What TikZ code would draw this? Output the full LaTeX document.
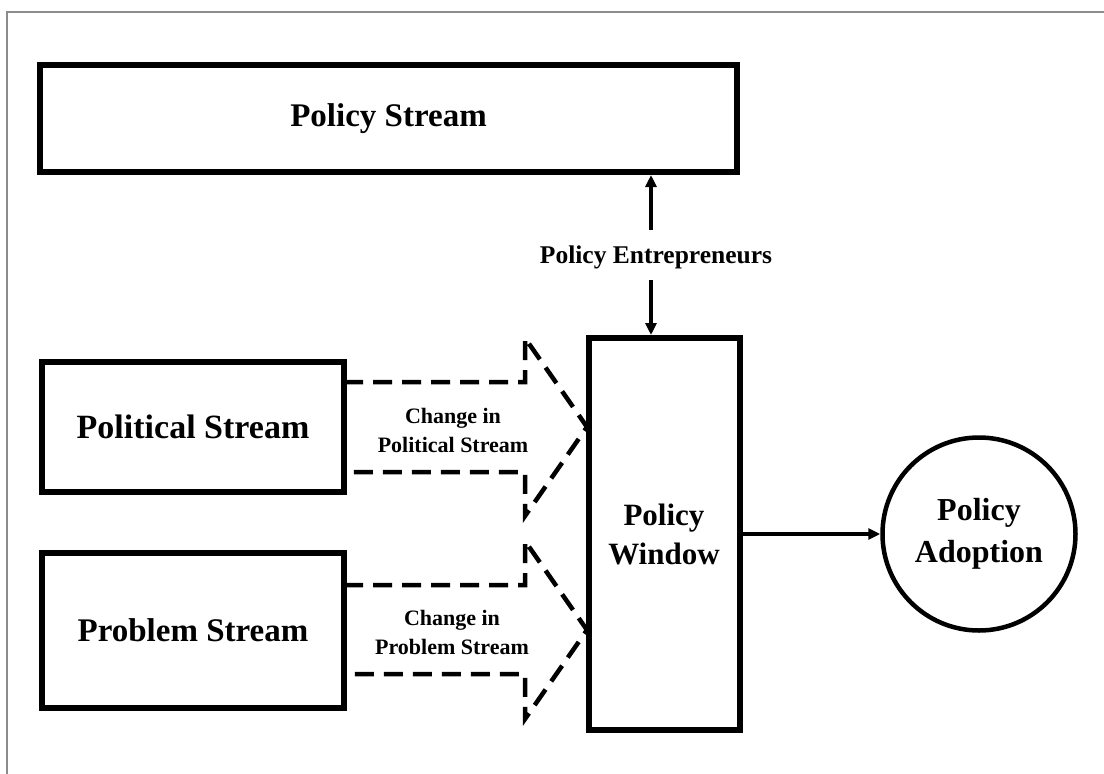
\documentclass[tikz,border=0pt]{standalone}
\usepackage{fontspec}
\setmainfont{Liberation Serif}
\usetikzlibrary{arrows.meta}
\begin{document}
\begin{tikzpicture}[x=1pt,y=-1pt,
  box/.style={draw, line width=6pt, inner sep=0pt, align=center,
              font=\bfseries\fontsize{33}{39}\selectfont},
  small/.style={inner sep=0pt, align=center,
              font=\bfseries\fontsize{22}{29}\selectfont},
  arr/.style={line width=4pt, -{Triangle[length=12pt,width=11pt]}},
  dsh/.style={line width=4.5pt, dash pattern=on 19pt off 10pt, line join=miter},
  frame/.style={draw=black!45, line width=1.5pt}]
\useasboundingbox (0,0) rectangle (1104,774);
% outer frame
\draw[frame] (7,774) -- (7,12) -- (1104,12);
% nodes
\node[box, minimum width=697pt, minimum height=107pt] (ps) at (388.5,118.5) {Policy Stream};
\node[box, minimum width=302pt, minimum height=130pt, font=\bfseries\fontsize{34}{39}\selectfont] (pol) at (193,427) {Political Stream};
\node[box, minimum width=302pt, minimum height=155pt] (prob) at (193,630) {Problem Stream};
\node[box, minimum width=151pt, minimum height=392pt, font=\bfseries\fontsize{31}{39}\selectfont] (win) at (664,534) {Policy\\Window};
\node[box, circle, line width=4.5pt, minimum size=193pt, font=\bfseries\fontsize{32}{42}\selectfont] (adopt) at (979,534) {Policy\\Adoption};
\node[inner sep=0pt, font=\bfseries\fontsize{25.5}{30}\selectfont] (pe) at (656,257) {Policy Entrepreneurs};
\node[small] (cpol) at (453,430) {Change in\\Political Stream};
\node[small] (cprob) at (452,632) {Change in\\Problem Stream};
% entrepreneur arrows
\coordinate (pe1) at (651,230);
\coordinate (pe2) at (651,280);
\draw[arr] (pe1) -- (pe1 |- ps.south);
\draw[arr] (pe2) -- (pe2 |- win.north);
% window to adoption
\draw[arr] (win.east |- adopt.west) -- (adopt.west);
% dashed block arrows
\draw[dsh] (344,382) -- (525,382) -- (525,338) -- (587,427) -- (525,516) -- (525,472) -- (344,472);
\draw[dsh] (344,585) -- (525,585) -- (525,541) -- (587,630) -- (525,719) -- (525,674) -- (344,674);
\end{tikzpicture}
\end{document}
